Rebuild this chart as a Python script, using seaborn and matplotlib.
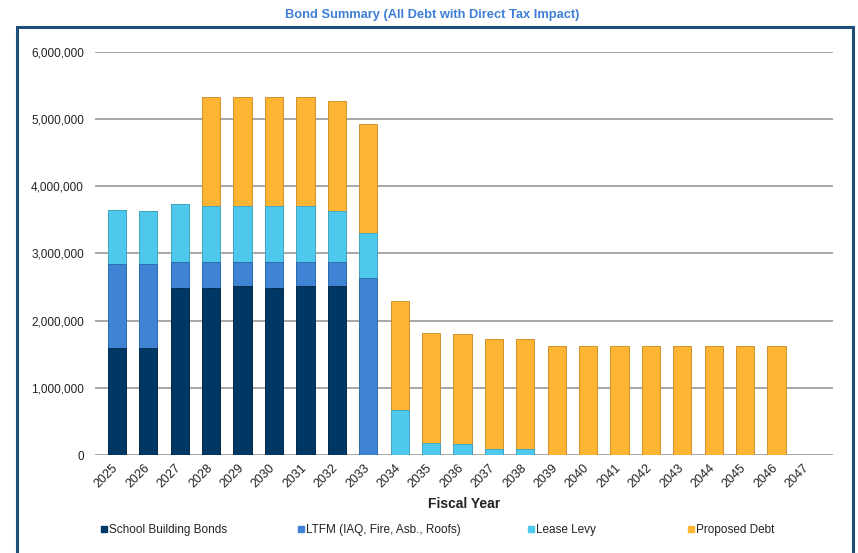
import matplotlib
matplotlib.use("Agg")
import matplotlib.pyplot as plt
from matplotlib.lines import Line2D
from matplotlib.patches import Rectangle
from matplotlib.ticker import FuncFormatter
from matplotlib.transforms import ScaledTranslation
import numpy as np
import pandas as pd
import seaborn as sns

years = [str(y) for y in range(2025, 2048)]
school_building_bonds = [1600000, 1590000, 2480000, 2490000, 2510000, 2490000, 2510000, 2510000,
                         0, 0, 0, 0, 0, 0, 0, 0, 0, 0, 0, 0, 0, 0, 0]
ltfm = [1250000, 1260000, 390000, 380000, 360000, 380000, 360000, 370000,
        2630000, 0, 0, 0, 0, 0, 0, 0, 0, 0, 0, 0, 0, 0, 0]
lease_levy = [800000, 790000, 860000, 830000, 830000, 840000, 840000, 750000,
              670000, 670000, 180000, 160000, 90000, 90000, 0, 0, 0, 0, 0, 0, 0, 0, 0]
proposed_debt = [0, 0, 0, 1630000, 1630000, 1620000, 1620000, 1640000,
                 1630000, 1630000, 1630000, 1640000, 1630000, 1630000, 1630000, 1630000,
                 1630000, 1630000, 1630000, 1630000, 1630000, 1630000, 0]

series_names = ["School Building Bonds", "LTFM (IAQ, Fire, Asb., Roofs)", "Lease Levy", "Proposed Debt"]
colors = ["#003865", "#3F84D4", "#4FC8EE", "#FFB534"]
edge_colors = ["#002440", "#2B65A8", "#35A4C8", "#C8871A"]
legend_x = [100, 297, 527, 687]  # pixel positions of legend entries

df = pd.DataFrame({
    "year": years,
    series_names[0]: school_building_bonds,
    series_names[1]: ltfm,
    series_names[2]: lease_levy,
    series_names[3]: proposed_debt,
})

sns.set_style("white")
plt.rcParams["font.family"] = ["Liberation Sans", "DejaVu Sans"]

fig = plt.figure(figsize=(8.58, 5.53), dpi=100)
ax = fig.add_axes([95 / 858, 98 / 553, 738 / 858, 403 / 553])

# outer frame
fig.patches.append(Rectangle((17 / 858, -0.02), 836 / 858, 1 - 27 / 553 + 0.02,
                             transform=fig.transFigure, fill=False,
                             edgecolor="#1F4E79", linewidth=2.2))

# stacked bars: draw cumulative totals from the top layer down
cum = df[series_names].cumsum(axis=1)
for i in range(len(series_names) - 1, -1, -1):
    sns.barplot(x=df["year"], y=cum[series_names[i]], color=colors[i], width=0.58,
                saturation=1, edgecolor=edge_colors[i], linewidth=0.6, ax=ax, zorder=3)

ax.set_xlim(-0.7, 22.8)
ax.set_ylim(0, 6000000)
ax.set_yticks(np.arange(0, 6000001, 1000000))
ax.yaxis.set_major_formatter(FuncFormatter(lambda v, p: f"{int(v):,}"))
ax.yaxis.grid(True, color="#A0A0A0", linewidth=1.3, zorder=0)
ax.set_axisbelow(True)
for s in ax.spines.values():
    s.set_visible(False)
ax.tick_params(axis="y", length=0, pad=8, labelsize=8.5, labelcolor="#222222")
ax.tick_params(axis="x", length=0, pad=5, labelsize=9, labelcolor="#222222")
plt.setp(ax.get_xticklabels(), rotation=45, ha="right", rotation_mode="anchor")
shift = ScaledTranslation(-5 / 100, 0, fig.dpi_scale_trans)
for lab in ax.get_xticklabels():
    lab.set_transform(lab.get_transform() + shift)

ax.set_ylabel("")
ax.set_xlabel("Fiscal Year", fontsize=10, fontweight="bold", color="#222222", labelpad=5)

fig.text(0.5 + 3 / 858, 1 - 15 / 553, "Bond Summary (All Debt with Direct Tax Impact)",
         ha="center", va="center", fontsize=9.3, fontweight="bold", color="#3E7FD6")

for name, c, px in zip(series_names, colors, legend_x):
    h = Line2D([0], [0], marker="s", linestyle="", markersize=5,
               markerfacecolor=c, markeredgecolor=c)
    fig.legend([h], [name], loc="center left", bbox_to_anchor=(px / 858, 1 - 530 / 553),
               frameon=False, fontsize=8.5, handlelength=0.6, handletextpad=0.2,
               borderpad=0, borderaxespad=0, labelcolor="#222222")

fig.savefig("out.png", dpi=100)
